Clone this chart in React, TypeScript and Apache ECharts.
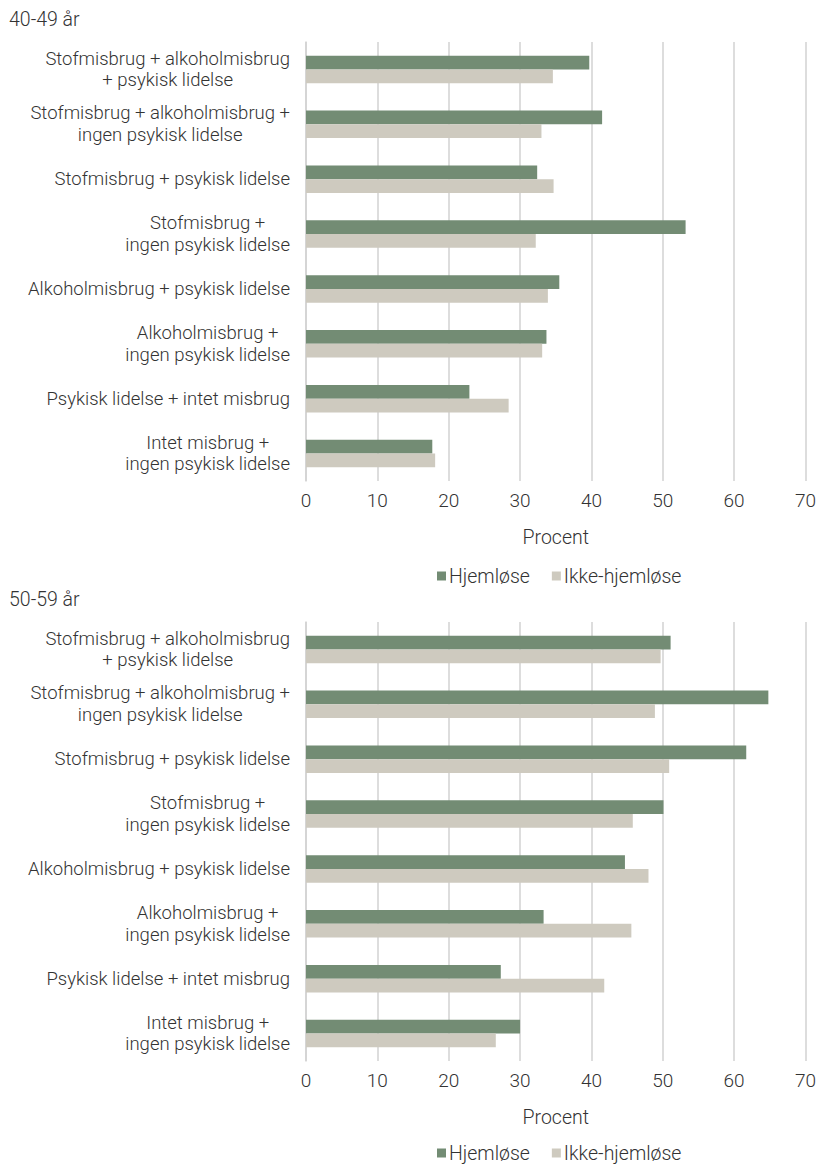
import React, { useEffect, useRef } from "react";
import * as echarts from "echarts";

const categories = [
  "Stofmisbrug + alkoholmisbrug\n+ psykisk lidelse",
  "Stofmisbrug + alkoholmisbrug +\ningen psykisk lidelse",
  "Stofmisbrug + psykisk lidelse",
  "Stofmisbrug +\ningen psykisk lidelse",
  "Alkoholmisbrug + psykisk lidelse",
  "Alkoholmisbrug +\ningen psykisk lidelse",
  "Psykisk lidelse + intet misbrug",
  "Intet misbrug +\ningen psykisk lidelse",
];

const titles = ["40-49 år", "50-59 år"];
const seriesNames = ["Hjemløse", "Ikke-hjemløse"];
const xTicks = [0, 10, 20, 30, 40, 50, 60, 70];

const homeless4049 = [39.7, 41.5, 32.4, 53.2, 35.5, 33.7, 22.9, 17.7];
const nonHomeless4049 = [34.6, 33.0, 34.7, 32.2, 33.9, 33.1, 28.4, 18.1];
const homeless5059 = [51.1, 64.8, 61.7, 50.1, 44.7, 33.3, 27.3, 30.0];
const nonHomeless5059 = [49.7, 48.9, 50.9, 45.8, 48.0, 45.6, 41.8, 26.6];

const GREEN = "#738c74";
const GREY = "#cecabf";
const TEXT = "#333333";
const GRID = "#d2d2d2";
const FONT = "Roboto";
const FS = 19.5;

export default function App() {
  const ref = useRef<HTMLDivElement>(null);
  useEffect(() => {
    if (!ref.current) return;
    const chart = echarts.init(ref.current, null, { renderer: "svg" });
    const offsets = [0, 580];
    const legendTops = [566, 1143];
    const data = [
      [homeless4049, nonHomeless4049],
      [homeless5059, nonHomeless5059],
    ];
    const grids = offsets.map((o) => ({
      left: 306,
      right: 12.5,
      top: 42 + o,
      height: 439,
      containLabel: false,
    }));
    const xAxes = offsets.map((_, i) => ({
      type: "value",
      gridIndex: i,
      min: xTicks[0],
      max: xTicks[xTicks.length - 1],
      interval: 10,
      name: "Procent",
      nameLocation: "middle",
      nameGap: 46,
      nameTextStyle: { fontFamily: FONT, fontSize: FS, color: TEXT, fontWeight: 300 },
      axisLine: { show: false },
      axisTick: { show: false },
      axisLabel: { fontFamily: FONT, fontSize: 19, color: TEXT, margin: 10, fontWeight: 300 },
      splitLine: { show: true, lineStyle: { color: GRID, width: 1.5 } },
    }));
    const yAxes = offsets.map((_, i) => ({
      type: "category",
      gridIndex: i,
      data: categories,
      inverse: true,
      axisLine: { show: true, lineStyle: { color: GRID, width: 1.5 } },
      axisTick: { show: false },
      axisLabel: {
        margin: 16,
        align: "right",
        formatter: (v: string) =>
          v
            .split("\n")
            .map((l) => `{c|${l}}`)
            .join("\n"),
        rich: {
          c: {
            align: "center",
            fontFamily: FONT,
            fontSize: 18.5,
            lineHeight: 21.8,
            color: TEXT,
            fontWeight: 300,
          },
        },
      },
    }));
    const series: any[] = [];
    offsets.forEach((_, i) => {
      [GREEN, GREY].forEach((c, j) => {
        series.push({
          type: "bar",
          name: seriesNames[j],
          xAxisIndex: i,
          yAxisIndex: i,
          data: data[i][j],
          barGap: "0%",
          barCategoryGap: "50%",
          itemStyle: { color: c },
        });
      });
    });
    chart.setOption({
      animation: false,
      title: offsets.map((o, i) => ({
        text: titles[i],
        left: 9,
        top: 9 + o,
        padding: 0,
        textStyle: { fontFamily: FONT, fontSize: FS, color: TEXT, fontWeight: 300 },
      })),
      legend: legendTops.map((t) => ({
        left: 437,
        top: t,
        padding: 0,
        itemWidth: 9,
        itemHeight: 9,
        itemGap: 22,
        icon: "rect",
        data: seriesNames,
        textStyle: { fontFamily: FONT, fontSize: FS, color: TEXT, fontWeight: 300, padding: [0, 0, 0, -2] },
      })),
      grid: grids,
      xAxis: xAxes,
      yAxis: yAxes,
      series,
    });
    return () => chart.dispose();
  }, []);
  return (
    <div
      ref={ref}
      style={{ position: "absolute", left: 0, top: 0, width: 819, height: 1165, background: "#fff" }}
    />
  );
}
